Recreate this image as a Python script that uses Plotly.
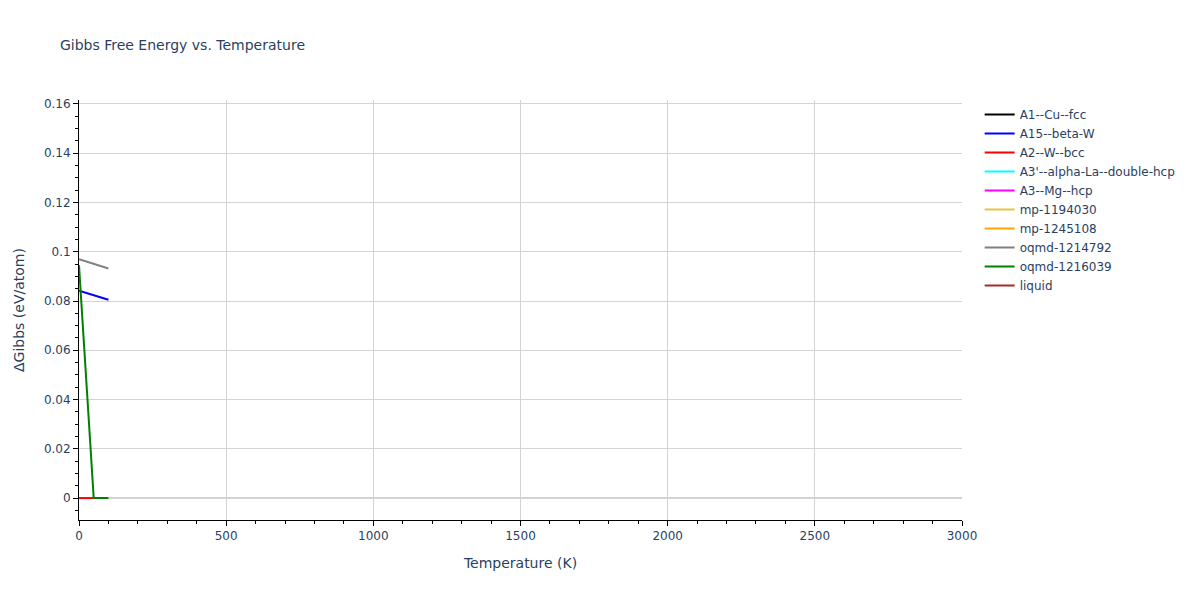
import plotly.graph_objects as go

# Gibbs free energy (eV/atom) relative to the lowest phase, vs temperature (K)
phases = ['A1--Cu--fcc', 'A15--beta-W', 'A2--W--bcc', "A3'--alpha-La--double-hcp",
          'A3--Mg--hcp', 'mp-1194030', 'mp-1245108', 'oqmd-1214792', 'oqmd-1216039', 'liquid']
colors = ['black', 'blue', 'red', 'cyan', 'magenta', '#e8c440', 'orange', 'gray', 'green', 'brown']

# phases without visible data in the chart are kept as [None]
temps = {
    'A1--Cu--fcc': [None],
    'A15--beta-W': [0, 100],
    'A2--W--bcc': [0, 50],
    "A3'--alpha-La--double-hcp": [None],
    'A3--Mg--hcp': [None],
    'mp-1194030': [None],
    'mp-1245108': [None],
    'oqmd-1214792': [0, 100],
    'oqmd-1216039': [0, 50, 100],
    'liquid': [None],
}
gibbs = {
    'A1--Cu--fcc': [None],
    'A15--beta-W': [0.0842, 0.0805],
    'A2--W--bcc': [0.0, 0.0],
    "A3'--alpha-La--double-hcp": [None],
    'A3--Mg--hcp': [None],
    'mp-1194030': [None],
    'mp-1245108': [None],
    'oqmd-1214792': [0.0970, 0.0932],
    'oqmd-1216039': [0.0945, 0.0, 0.0],
    'liquid': [None],
}

fig = go.Figure()
for name, col in zip(phases, colors):
    fig.add_trace(go.Scatter(x=temps[name], y=gibbs[name], mode='lines', name=name,
                             line=dict(color=col, width=2), showlegend=True))

fig.update_layout(
    title=dict(text='Gibbs Free Energy vs. Temperature', x=0.0433, y=0.938, yanchor='middle',
               font=dict(size=14)),
    template='plotly_white',
    font=dict(family='DejaVu Sans', size=12),
    width=1200, height=600,
    margin=dict(l=71, r=246, t=92, b=88),
    legend=dict(x=1.02, y=1, font=dict(size=12)),
    showlegend=True,
)
fig.update_xaxes(title='Temperature (K)', range=[0, 3000], dtick=500, automargin=False,
                 showline=True, linecolor='black', ticks='outside', tickcolor='black',
                 gridcolor='lightgray', zeroline=False,
                 minor=dict(ticks='outside', dtick=100, tickcolor='black', showgrid=False))
fig.update_yaxes(title='ΔGibbs (eV/atom)', range=[-0.0089, 0.1616], dtick=0.02, automargin=False,
                 showline=True, linecolor='black', ticks='outside', tickcolor='black',
                 gridcolor='lightgray', zeroline=True, zerolinecolor='lightgray', zerolinewidth=2,
                 minor=dict(ticks='outside', dtick=0.005, tickcolor='black', showgrid=False))

fig.write_html("out.html")
